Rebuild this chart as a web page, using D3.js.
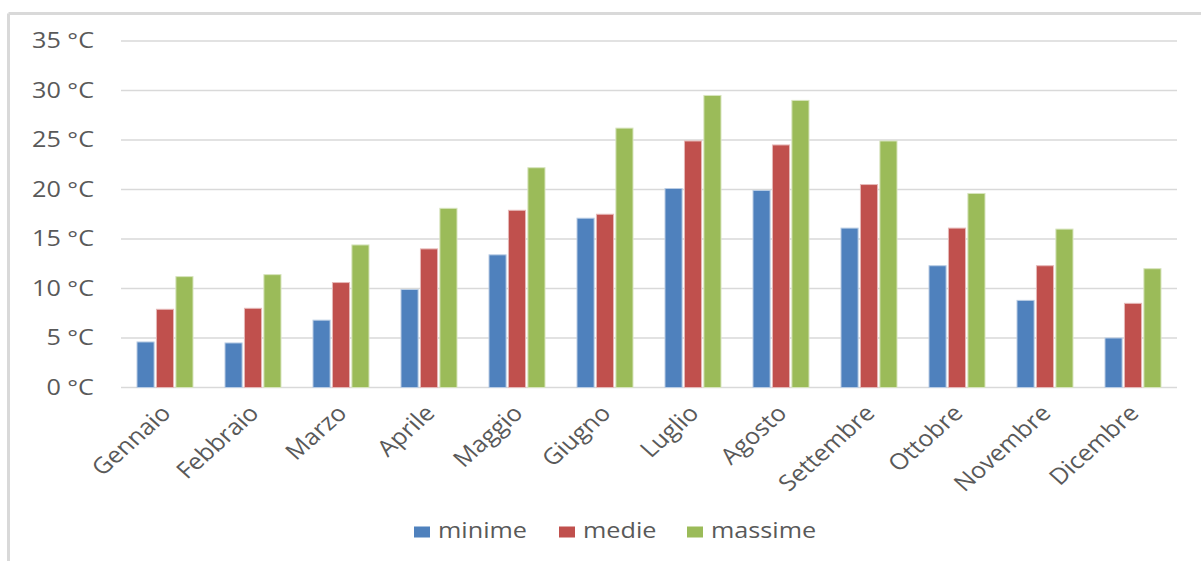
<!DOCTYPE html>
<html>
<head>
<meta charset="utf-8">
<script src="https://cdn.jsdelivr.net/npm/d3@7"></script>
<style>
  html, body { margin: 0; padding: 0; background: #fff; }
  svg { display: block; }
  text { font-family: "Open Sans", sans-serif; fill: #595959; }
</style>
</head>
<body>
<svg id="chart" width="1201" height="561"></svg>
<script>
const months = ["Gennaio","Febbraio","Marzo","Aprile","Maggio","Giugno","Luglio","Agosto","Settembre","Ottobre","Novembre","Dicembre"];
const minime  = [4.6, 4.5, 6.8, 9.9, 13.4, 17.1, 20.1, 19.9, 16.1, 12.3, 8.8, 5.0];
const medie   = [7.9, 8.0, 10.6, 14.0, 17.9, 17.5, 24.9, 24.5, 20.5, 16.1, 12.3, 8.5];
const massime = [11.2, 11.4, 14.4, 18.1, 22.2, 26.2, 29.5, 29.0, 24.9, 19.6, 16.0, 12.0];
const seriesNames = ["minime", "medie", "massime"];
const yTicks = [0, 5, 10, 15, 20, 25, 30, 35];

const colors = { minime: "#4F81BD", medie: "#C0504D", massime: "#9BBB59" };
const strokes = { minime: "#b9cce4", medie: "#e6b9b8", massime: "#d7e4bd" };
const seriesData = { minime, medie, massime };

const svg = d3.select("#chart");
const SX = 1.2; // horizontal text stretch

// chart frame (top & left border visible)
svg.append("line").attr("x1", 8.5).attr("x2", 1201).attr("y1", 13.5).attr("y2", 13.5)
  .attr("stroke", "#d9d9d9").attr("stroke-width", 3);
svg.append("line").attr("x1", 8.5).attr("x2", 8.5).attr("y1", 13.5).attr("y2", 561)
  .attr("stroke", "#d9d9d9").attr("stroke-width", 3);

const x = d3.scaleBand().domain(months).range([121, 1177]).padding(0);
const y = d3.scaleLinear().domain([0, 35]).range([387.5, 41]);
const groupW = 56;
const xs = d3.scaleBand().domain(seriesNames).range([0, groupW]).paddingInner(0.12);

// gridlines
svg.append("g").selectAll("line").data(yTicks).join("line")
  .attr("x1", 121).attr("x2", 1177)
  .attr("y1", d => y(d)).attr("y2", d => y(d))
  .attr("stroke", "#d9d9d9").attr("stroke-width", 1.5);

// y labels
svg.append("g").selectAll("text").data(yTicks).join("text")
  .attr("transform", d => `translate(94,${y(d)}) scale(${SX},1)`)
  .attr("text-anchor", "end").attr("dy", "0.35em")
  .style("font-size", "21px")
  .text(d => `${d} °C`);

// bars
const groups = svg.append("g").selectAll("g").data(months).join("g")
  .attr("transform", d => `translate(${x(d) + x.bandwidth() / 2 - groupW / 2},0)`);
groups.selectAll("rect").data((m, i) => seriesNames.map(s => ({ s, v: seriesData[s][i] }))).join("rect")
  .attr("x", d => xs(d.s))
  .attr("width", xs.bandwidth())
  .attr("y", d => y(d.v))
  .attr("height", d => y(0) - y(d.v))
  .attr("fill", d => colors[d.s])
  .attr("stroke", d => strokes[d.s])
  .attr("stroke-width", 1);

// x labels
svg.append("g").selectAll("text").data(months).join("text")
  .attr("transform", d => `translate(${x(d) + x.bandwidth() / 2 + 1},${409}) scale(1.12,1) rotate(-45)`)
  .attr("text-anchor", "end").attr("dy", "0.35em")
  .style("font-size", "22.5px")
  .text(d => d);

// legend
const legendPos = [414, 559, 687];
const legend = svg.append("g").selectAll("g").data(seriesNames).join("g")
  .attr("transform", (d, i) => `translate(${legendPos[i]},0)`);
legend.append("rect").attr("x", 0).attr("y", 526.5).attr("width", 16).attr("height", 11)
  .attr("fill", d => colors[d]);
legend.append("text")
  .attr("transform", `translate(24,531) scale(${SX},1)`)
  .attr("dy", "0.35em")
  .style("font-size", "21px")
  .text(d => d);
</script>
</body>
</html>
